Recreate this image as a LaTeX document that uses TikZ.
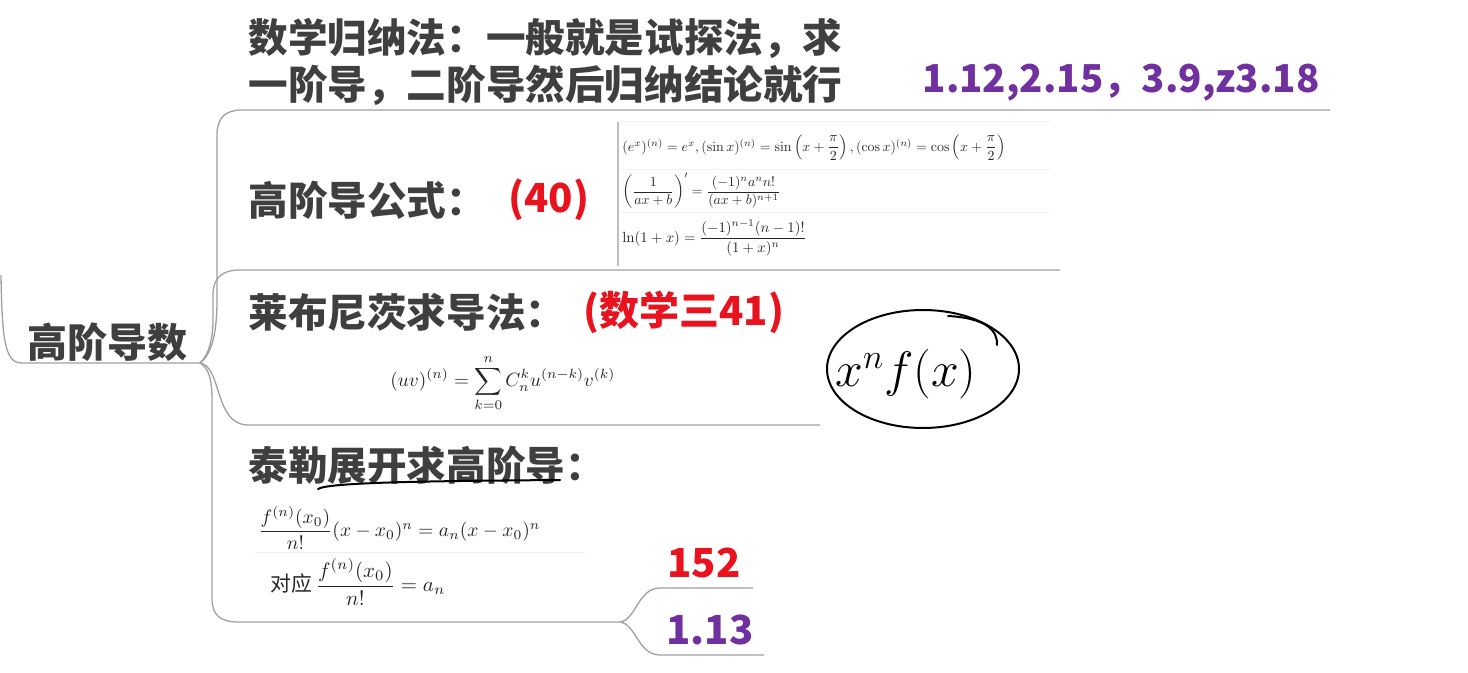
\documentclass[tikz,border=0pt]{standalone}
\usepackage[no-math]{fontspec}
\usepackage{amsmath}
\usepackage{graphicx}
\newfontfamily\cjk{Noto Sans CJK SC}
\definecolor{lbl}{HTML}{3F3F3F}
\definecolor{redn}{HTML}{E8131E}
\definecolor{purp}{HTML}{7030A0}
\definecolor{br}{HTML}{A0A0A0}
\begin{document}
\begin{tikzpicture}[x=0.5pt,y=-0.5pt,
  lab/.style={font=\cjk\bfseries\fontsize{19.8}{23}\selectfont, text=lbl, inner sep=0pt, anchor=west},
  rednum/.style={font=\cjk\bfseries\fontsize{20}{24}\selectfont, text=redn, inner sep=0pt},
  purnum/.style={font=\cjk\bfseries\fontsize{20}{24}\selectfont, text=purp, inner sep=0pt},
  branch/.style={draw=br, line width=0.65pt},
  faint/.style={draw=gray!12, line width=0.5pt},
  fml/.style={inner sep=0pt, text=black!85, anchor=west},
  hand/.style={draw=black, line width=1pt, line cap=round}]
\useasboundingbox (0,0) rectangle (1468,673);
\fill[white] (0,0) rectangle (1468,673);

% root
\node[lab, font=\cjk\bfseries\fontsize{20}{24}\selectfont] (root) at (27,342) {高阶导数};
\coordinate (P) at (1,275);
\coordinate (J) at (200,363);
\draw[branch] (P) .. controls (2,345) and (6,363) .. (22,363) -- (J);

% branch 1
\node[lab] (ind1) at (248,38) {数学归纳法：一般就是试探法，求};
\node[lab] (ind2) at (248,85) {一阶导，二阶导然后归纳结论就行};
\node[purnum, font=\cjk\bfseries\fontsize{19.2}{23}\selectfont, anchor=east] (nums) at (1320,83) {1.12,2.15，3.9,z3.18};
\coordinate (E1) at (1330,110);
\draw[branch] (J) .. controls (211,355) and (217,335) .. (217,300) -- (217,135)
  .. controls (217,118) and (225,110) .. (242,110) -- (E1);

% branch 2
\node[lab] (gs) at (248,200) {高阶导公式：};
\node[rednum, anchor=west] (n40) at (508,200) {(40)};
\coordinate (E2) at (1060,270);
\draw[branch] (J) .. controls (209,355) and (213,338) .. (213,320) -- (213,295)
  .. controls (213,278) and (222,270) .. (240,270) -- (E2);

% formula box
\draw[faint] (618,122) -- (1050,122);
\draw[faint] (620,170) -- (1050,170);
\draw[faint] (620,213) -- (1050,213);
\draw[draw=gray!50, line width=0.6pt] (618,122) -- (618,266);
\node[fml] (f1) at (622,148) {\resizebox{191.5pt}{!}{$(e^x)^{(n)}=e^x,(\sin x)^{(n)}=\sin\left(x+\dfrac{\pi}{2}\right),(\cos x)^{(n)}=\cos\left(x+\dfrac{\pi}{2}\right)$}};
\node[fml] (f2) at (622,191) {\resizebox{79pt}{!}{$\left(\dfrac{1}{ax+b}\right)'=\dfrac{(-1)^n a^n n!}{(ax+b)^{n+1}}$}};
\node[fml] (f3) at (622,238) {\resizebox{92pt}{!}{$\ln(1+x)=\dfrac{(-1)^{n-1}(n-1)!}{(1+x)^n}$}};

% branch 3
\node[lab] (lb) at (248,312) {莱布尼茨求导法：};
\node[rednum, anchor=west] (n41) at (583,312) {(数学三41)};
\node[fml] (f4) at (390,383) {\resizebox{112.5pt}{!}{$\displaystyle (uv)^{(n)}=\sum_{k=0}^{n}C_n^k u^{(n-k)}v^{(k)}$}};
\coordinate (E3) at (820,425);
\draw[branch] (J) .. controls (222,366) and (214,425) .. (248,425) -- (E3);

% hand-drawn ellipse
\draw[hand] (923,369) ellipse [x radius=96, y radius=59];
\draw[hand] (948,316) .. controls (985,318) and (998,330) .. (997,345);
\node[font=\fontsize{23}{27}\selectfont] (hw) at (906,374) {$x^{n}f(x)$};

% branch 4
\node[lab] (ty) at (248,465) {泰勒展开求高阶导：};
\draw[hand] (318,489) .. controls (328,482) and (440,481) .. (560,480);
\node[fml] (f5) at (258,528) {\resizebox{141pt}{!}{$\dfrac{f^{(n)}(x_0)}{n!}(x-x_0)^n=a_n(x-x_0)^n$}};
\draw[faint] (255,553) -- (585,553);
\node[fml] (f6) at (270,582) {\resizebox{87.5pt}{!}{{\cjk 对应}\,$\dfrac{f^{(n)}(x_0)}{n!}=a_n$}};
\coordinate (K) at (620,622);
\draw[branch] (J) .. controls (209,368) and (212,380) .. (212,400) -- (212,598)
  .. controls (212,615) and (220,622) .. (238,622) -- (K);

\node[rednum] (n152) at (704,563) {152};
\node[purnum] (n113) at (710,630) {1.13};
\coordinate (E5) at (753,588);
\coordinate (E6) at (764,655);
\draw[branch] (K) .. controls (636,620) and (638,588) .. (660,588) -- (E5);
\draw[branch] (K) .. controls (636,624) and (638,655) .. (660,655) -- (E6);
\end{tikzpicture}
\end{document}
